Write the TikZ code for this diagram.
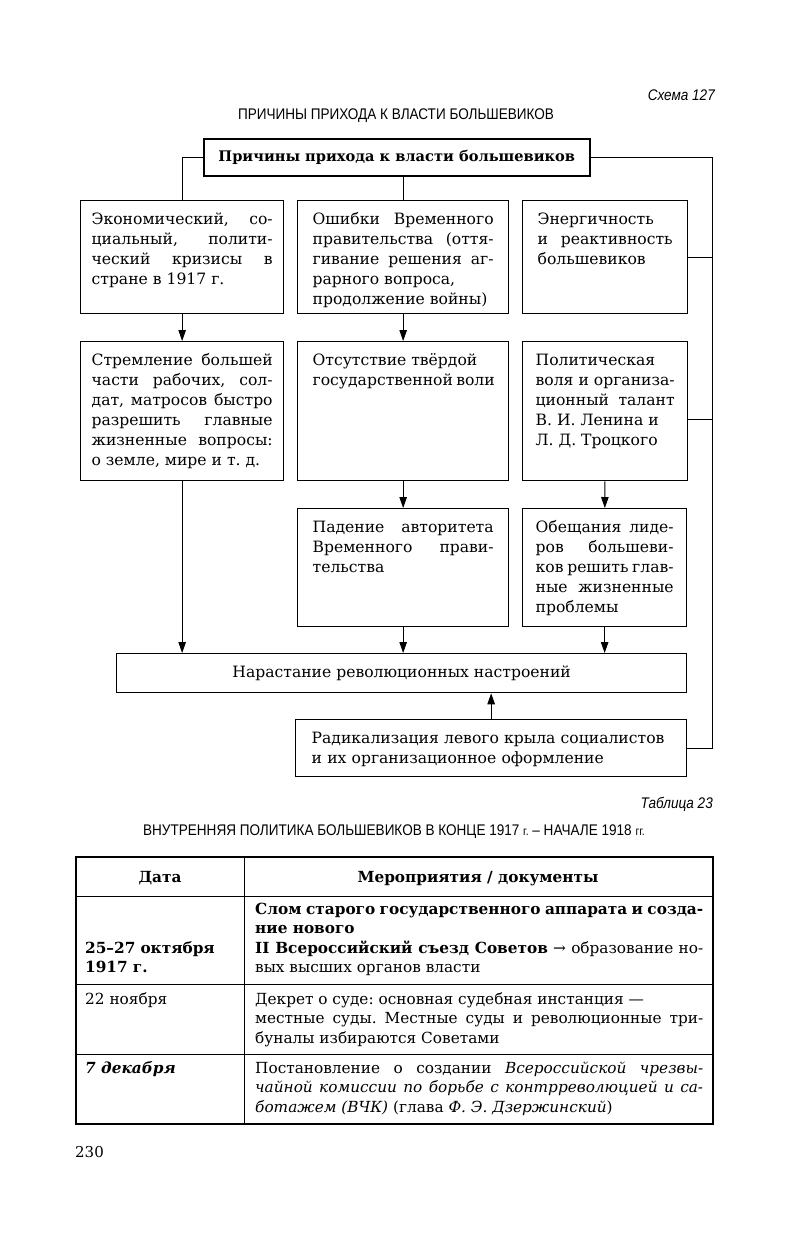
\documentclass[tikz,border=0pt]{standalone}
\usepackage{fontspec}
\setmainfont{DejaVu Serif}
\newfontfamily\headfont[FakeStretch=0.88]{Liberation Sans}
\usetikzlibrary{arrows.meta, positioning, calc}
\hyphenpenalty=10000
\exhyphenpenalty=10000
\tolerance=10000
\frenchspacing

\begin{document}
\begin{tikzpicture}[x=1pt, y=-1pt,
  every node/.style={inner sep=0pt},
  body/.style={font=\fontsize{15.6}{20}\selectfont},
  cause/.style={draw, line width=1.3pt, anchor=north west, align=justify, body,
    inner ysep=10pt, text height=14pt},
  link/.style={line width=0.9pt},
  arr/.style={link, -{Triangle[length=11pt, width=7.5pt]}},
  head/.style={font=\headfont\fontsize{15.4}{18}\selectfont},
  cell/.style={anchor=north west, align=justify, text height=14pt,
    font=\fontsize{15.3}{19.5}\selectfont},
]
  \fill[white] (0,0) rectangle (791,1245);
  \path[use as bounding box] (0,0) rectangle (791,1245);

  % headings
  \node[head, anchor=base east] (schema) at (715,100) {\itshape Схема 127};
  \node[head, anchor=base] (title) at (396,119) {ПРИЧИНЫ ПРИХОДА К ВЛАСТИ БОЛЬШЕВИКОВ};

  % root
  \node[draw, line width=1.6pt, anchor=north west, minimum width=386pt, minimum height=37pt,
    font=\fontsize{14.6}{18}\selectfont\bfseries] (root) at (203,138)
    {Причины прихода к власти большевиков};

  % first row
  \node[cause, inner xsep=11pt, text width=181pt, text depth=79pt] (crisis) at (80,200)
    {Экономический,~со-\linebreak циальный,~полити-\linebreak ческий~кризисы~в\linebreak стране в 1917~г.};
  \node[cause, inner xsep=15pt, text width=181pt, text depth=79pt] (errors) at (297,200)
    {Ошибки~Временного\linebreak правительства~(оття-\linebreak гивание~решения~аг-\linebreak рарного вопроса,\\ продолжение~войны)};
  \node[cause, inner xsep=15pt, text width=135pt, text depth=79pt] (energy) at (522,200)
    {Энергичность\\ и~реактивность\linebreak большевиков};

  % second row
  \node[cause, inner xsep=11pt, text width=181pt, text depth=105pt] (masses) at (80,341)
    {Стремление~большей\linebreak части~рабочих,~сол-\linebreak дат,~матросов~быстро\linebreak разрешить~главные\linebreak жизненные~вопросы:\linebreak о~земле, мире и~т.~д.};
  \node[cause, inner xsep=15pt, text width=181pt, text depth=105pt] (will) at (297,341)
    {Отсутствие твёрдой\\ государственной~воли};
  \node[cause, inner xsep=13pt, text width=139pt, text depth=105pt] (talent) at (522,341)
    {Политическая\\ воля~и~организа-\linebreak ционный~талант\linebreak В.~И.~Ленина~и\\ Л.~Д.~Троцкого};

  % third row
  \node[cause, inner xsep=15pt, text width=181pt, text depth=84pt] (fall) at (297,508)
    {Падение~авторитета\linebreak Временного~прави-\linebreak тельства};
  \node[cause, inner xsep=13pt, text width=138pt, text depth=84pt] (promise) at (522,508)
    {Обещания~лиде-\linebreak ров~большеви-\linebreak ков~решить~глав-\linebreak ные~жизненные\linebreak проблемы};

  % result and radicals
  \node[draw, line width=1.3pt, anchor=north west, minimum width=570pt, minimum height=39pt, body] (mood) at (116,653)
    {Нарастание революционных настроений};
  \node[cause, align=left, inner xsep=16pt, text width=359pt, text depth=23pt] (radical) at (295,719)
    {Радикализация~левого~крыла~социалистов\\ и их организационное оформление};

  % connectors
  \coordinate (rail) at (712,0);
  \draw[link] (root.west) -| (crisis.north);
  \draw[link] (root.south -| errors.north) -- (errors.north);
  \draw[link] (root.east) -- (root.east -| rail) -- (rail |- radical.east) -- (radical.east);
  \draw[link] (energy.east) -- (energy.east -| rail);
  \draw[link] ([yshift=-8pt]talent.east) -- ([yshift=-8pt]talent.east -| rail);

  \draw[arr] (crisis) -- (masses);
  \draw[arr] (errors) -- (will);
  \draw[arr] (will) -- (fall);
  \draw[arr] (talent) -- (promise);
  \draw[arr] (masses.south) -- (masses.south |- mood.north);
  \draw[arr] (fall.south) -- (fall.south |- mood.north);
  \draw[arr] (promise.south) -- (promise.south |- mood.north);
  \draw[arr] (radical.north) -- (radical.north |- mood.south);

  % table
  \node[head, anchor=base east] (tabno) at (713,808) {\itshape Таблица 23};
  \node[head, anchor=base] (tabtitle) at (394,835)
    {ВНУТРЕННЯЯ ПОЛИТИКА БОЛЬШЕВИКОВ В КОНЦЕ 1917 {\fontsize{12}{14}\selectfont г.} – НАЧАЛЕ 1918 {\fontsize{12}{14}\selectfont гг.}};

  \draw[line width=1.3pt] (76,857) rectangle (713,1124);
  \draw[link] (244,857) -- (244,1124);
  \foreach \y in {896,984,1054}
    \draw[link] (76,\y) -- (713,\y);

  \node[font=\fontsize{15.3}{18}\selectfont\bfseries, anchor=base] (hdate) at (160,882) {Дата};
  \node[font=\fontsize{15.3}{18}\selectfont\bfseries, anchor=base] (hacts) at (478,882) {Мероприятия / документы};

  \node[cell, align=left, text width=150pt, font=\fontsize{15.3}{19.5}\selectfont\bfseries] (d1) at (85,939) {25–27 октября\\ 1917~г.};
  \node[cell, text width=448pt] (c1) at (255,900)
    {\textbf{Слом старого государственного аппарата и созда-\linebreak ние нового}\\ \textbf{II Всероссийский съезд Советов} → образование но-\linebreak вых высших органов власти};

  \node[cell, align=left] (d2) at (85,990) {22 ноября};
  \node[cell, text width=448pt] (c2) at (255,990)
    {Декрет о~суде: основная судебная инстанция~—\\ местные суды. Местные суды и~революционные три-\linebreak буналы избираются Советами};

  \node[cell, align=left, font=\fontsize{15.3}{19.5}\selectfont\bfseries\itshape] (d3) at (85,1059) {7 декабря};
  \node[cell, text width=448pt] (c3) at (255,1059)
    {Постановление о~создании \textit{Всероссийской чрезвы-}\linebreak \textit{чайной комиссии по борьбе с~контрреволюцией и~са-}\linebreak \textit{ботажем (ВЧК)} (глава \textit{Ф.~Э.~Дзержинский})};

  \node[font=\fontsize{15}{18}\selectfont, anchor=base west] (pageno) at (75,1157) {230};
\end{tikzpicture}
\end{document}
